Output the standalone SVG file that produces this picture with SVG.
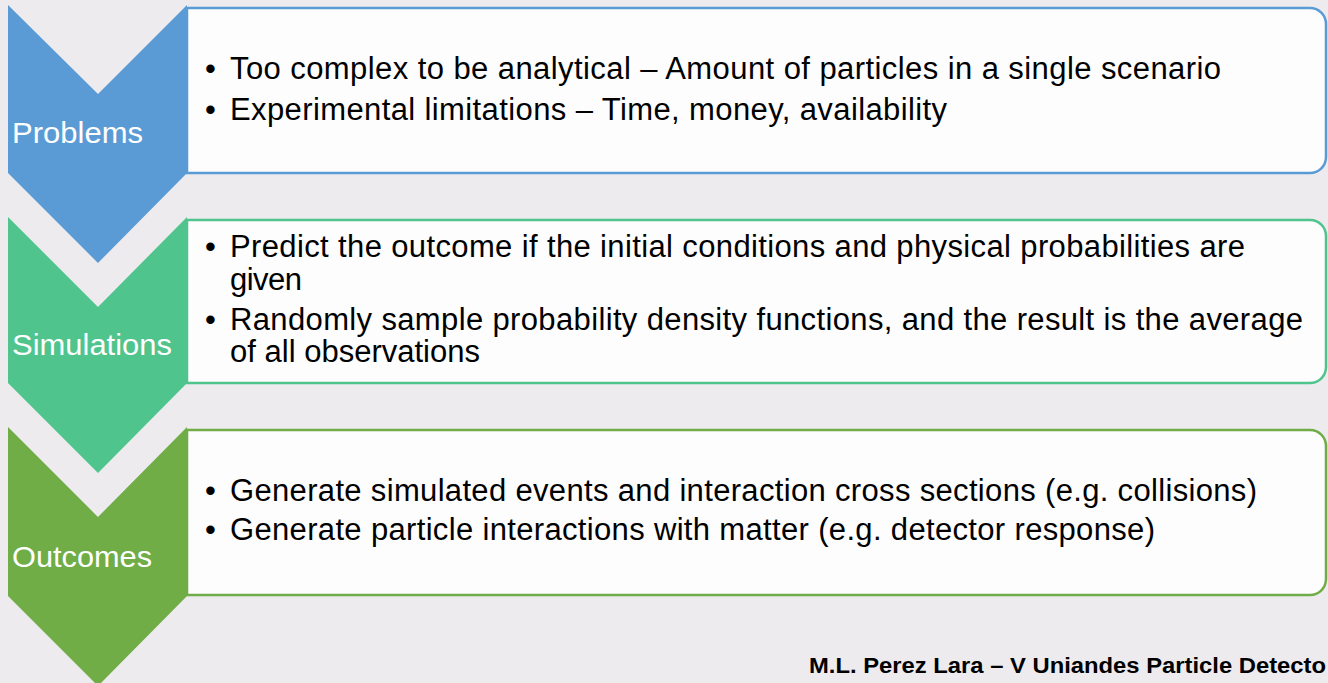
<svg xmlns="http://www.w3.org/2000/svg" width="1328" height="683" viewBox="0 0 1328 683">
<style>
.bg{fill:#EDEBEE}
.txt{font-family:"Liberation Sans",Arial,sans-serif;font-size:31px;fill:#000}
.lbl{font-family:"Liberation Sans",Arial,sans-serif;font-size:30px;fill:#fff}
.box{fill:#FDFDFD;stroke-width:2.5}
.foot{font-family:"Liberation Sans",Arial,sans-serif;font-size:22px;font-weight:bold;fill:#000}
</style>
<rect class="bg" x="0" y="0" width="1328" height="683"/>
<g id="problems">
<polygon points="8,5 98,94 187,5 187,173 98,263 8,173" fill="#5B9BD5"/>
<path class="box" stroke="#5B9BD5" d="M187,8 H1310 A16,16 0 0 1 1326,24 V157 A16,16 0 0 1 1310,173 H187 Z"/>
<text class="lbl" x="12" y="143" textLength="131" lengthAdjust="spacingAndGlyphs">Problems</text>
<text class="txt" x="205" y="79">•</text>
<text class="txt" x="230" y="79" textLength="991">Too complex to be analytical – Amount of particles in a single scenario</text>
<text class="txt" x="205" y="120">•</text>
<text class="txt" x="230" y="120" textLength="717">Experimental limitations – Time, money, availability</text>
</g>
<g id="simulations">
<polygon points="8,217 98,307 187,217 187,383 98,473 8,383" fill="#4FC48D"/>
<path class="box" stroke="#4FC48D" d="M187,220 H1310 A16,16 0 0 1 1326,236 V367 A16,16 0 0 1 1310,383 H187 Z"/>
<text class="lbl" x="12" y="355" textLength="160" lengthAdjust="spacingAndGlyphs">Simulations</text>
<text class="txt" x="205" y="257">•</text>
<text class="txt" x="230" y="257" textLength="1015">Predict the outcome if the initial conditions and physical probabilities are</text>
<text class="txt" x="230" y="290" textLength="72">given</text>
<text class="txt" x="205" y="330">•</text>
<text class="txt" x="230" y="330" textLength="1073">Randomly sample probability density functions, and the result is the average</text>
<text class="txt" x="230" y="362" textLength="250">of all observations</text>
</g>
<g id="outcomes">
<polygon points="8,427 98,517 187,427 187,596 98,686 8,596" fill="#70AD47"/>
<path class="box" stroke="#70AD47" d="M187,430 H1310 A16,16 0 0 1 1326,446 V579 A16,16 0 0 1 1310,595 H187 Z"/>
<text class="lbl" x="12" y="567" textLength="140" lengthAdjust="spacingAndGlyphs">Outcomes</text>
<text class="txt" x="205" y="501">•</text>
<text class="txt" x="230" y="501" textLength="1027">Generate simulated events and interaction cross sections (e.g. collisions)</text>
<text class="txt" x="205" y="540">•</text>
<text class="txt" x="230" y="540" textLength="925">Generate particle interactions with matter (e.g. detector response)</text>
</g>
<g id="footer">
<text class="foot" x="809" y="673" textLength="517" lengthAdjust="spacingAndGlyphs">M.L. Perez Lara – V Uniandes Particle Detecto</text>
</g>
</svg>
